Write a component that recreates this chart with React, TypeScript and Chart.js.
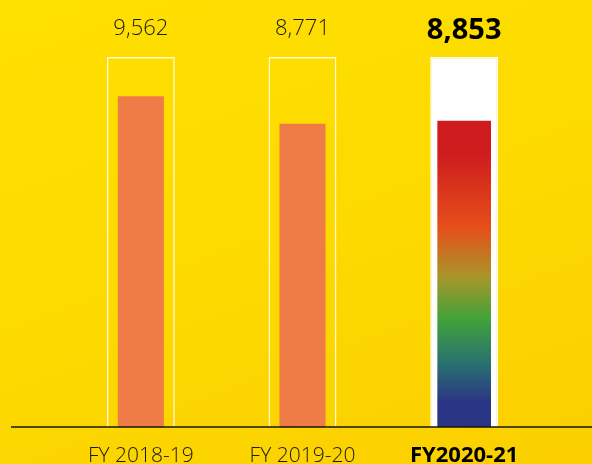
import React, { useEffect, useRef } from "react";
import { Chart, registerables } from "chart.js";

Chart.register(...registerables);

const categories = ["FY 2018-19", "FY 2019-20", "FY2020-21"];
const valueLabels = ["9,562", "8,771", "8,853"];
const pastValues: (number | null)[] = [9562, 8771, null];
const currentValues: (number | null)[] = [null, null, 8853];
const frameValues = [10700, 10700, 10700];
const highlighted = [false, false, true];

const gradientStops: [number, string][] = [
  [0, "#cd1b1e"],
  [0.1, "#cd1b1e"],
  [0.35, "#e5501a"],
  [0.51, "#a8962a"],
  [0.65, "#40a23a"],
  [0.79, "#29726f"],
  [0.92, "#2b3585"],
  [1, "#2b3585"],
];

const labelsPlugin = {
  id: "labelsPlugin",
  afterDatasetsDraw(chart: any) {
    const { ctx, chartArea } = chart;
    const xs = chart.scales.x;
    ctx.save();
    ctx.strokeStyle = "#141414";
    ctx.lineWidth = 1.5;
    ctx.beginPath();
    ctx.moveTo(11, chartArea.bottom);
    ctx.lineTo(chart.width, chartArea.bottom);
    ctx.stroke();
    ctx.textAlign = "center";
    ctx.textBaseline = "alphabetic";
    categories.forEach((c, i) => {
      const cx = xs.getPixelForValue(i);
      ctx.fillStyle = highlighted[i] ? "#000000" : "#1a1a1a";
      ctx.font = highlighted[i] ? 'bold 22px "Open Sans"' : '300 21px "Open Sans"';
      ctx.fillText(c, cx, chartArea.bottom + 35);
      ctx.font = highlighted[i] ? 'bold 29px "Open Sans"' : '300 22px "Open Sans"';
      ctx.fillText(valueLabels[i], cx, highlighted[i] ? 39 : 35);
    });
    ctx.restore();
  },
};

export default function App() {
  const ref = useRef<HTMLCanvasElement>(null);
  useEffect(() => {
    document.body.style.margin = "0";
    const chart = new Chart(ref.current!, {
      type: "bar",
      data: {
        labels: categories,
        datasets: [
          {
            data: frameValues,
            order: 3,
            grouped: false,
            categoryPercentage: 1,
            barPercentage: 0.42,
            backgroundColor: highlighted.map((h) => (h ? "#ffffff" : "rgba(0,0,0,0)")),
            borderColor: highlighted.map((h) => (h ? "#ffffff" : "#fff8d0")),
            borderWidth: 1.5,
          },
          {
            data: pastValues,
            order: 2,
            grouped: false,
            categoryPercentage: 1,
            barPercentage: 0.285,
            backgroundColor: "#ef7c46",
            borderWidth: 0,
          },
          {
            data: currentValues,
            order: 1,
            grouped: false,
            categoryPercentage: 1,
            barPercentage: 0.332,
            backgroundColor: (c: any) => {
              const chart = c.chart;
              if (!chart.chartArea) return "#cd1b1e";
              const ys = chart.scales.y;
              const v = currentValues[2] as number;
              const top = ys.getPixelForValue(v);
              const bottom = ys.getPixelForValue(0);
              const g = chart.ctx.createLinearGradient(0, top, 0, bottom);
              gradientStops.forEach(([o, col]) => g.addColorStop(o, col));
              return g;
            },
            borderWidth: 0,
          },
        ],
      },
      options: {
        responsive: false,
        animation: false,
        layout: { padding: { left: 60, right: 47, top: 57, bottom: 37 } },
        plugins: { legend: { display: false }, tooltip: { enabled: false } },
        scales: {
          x: { display: false },
          y: { display: false, min: 0, max: 10700 },
        },
      },
      plugins: [labelsPlugin],
    });
    return () => chart.destroy();
  }, []);
  return (
    <div
      style={{
        position: "fixed",
        left: 0,
        top: 0,
        width: 592,
        height: 464,
        background: "linear-gradient(160deg, #fee000 0%, #fdd900 55%, #fbcf00 100%)",
      }}
    >
      <canvas ref={ref} width={592} height={464} style={{ display: "block" }} />
    </div>
  );
}
